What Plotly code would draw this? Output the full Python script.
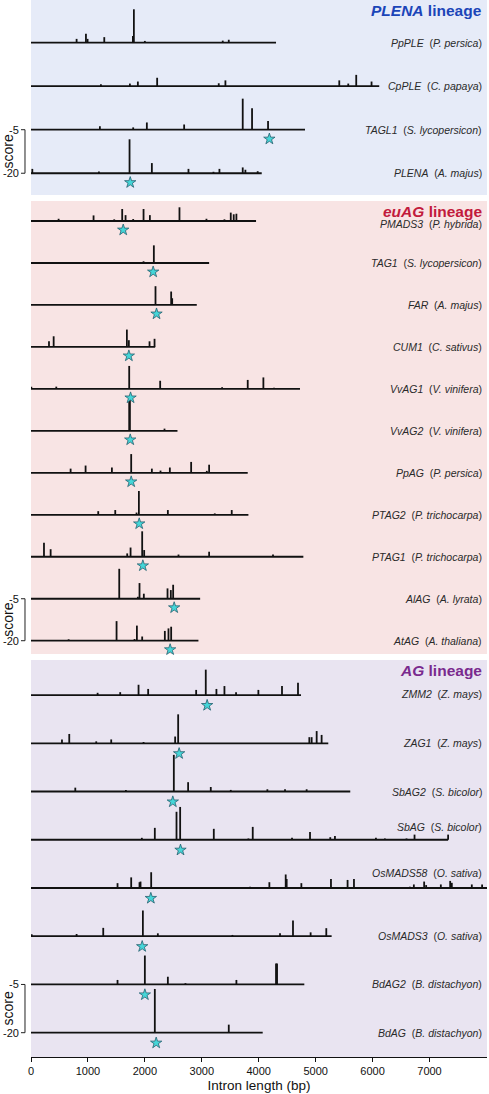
import plotly.graph_objects as go

# ------------------------------------------------------------------
# DATA  (positions in bp, peak values are scores; baseline = -5)
# ------------------------------------------------------------------
SCALE_TOP_SCORE = -5
SCALE_BOTTOM_SCORE = -20
X_TICKS = [0, 1000, 2000, 3000, 4000, 5000, 6000, 7000]

# ---- PLENA lineage ----
PLENA_GENES = ["PpPLE", "CpPLE", "TAGL1", "PLENA"]
PLENA_SPECIES = ["P. persica", "C. papaya", "S. lycopersicon", "A. majus"]
PLENA_LENGTH = [4304, 6117, 4813, 4053]
PLENA_STAR = [None, None, 4187, 1743]

PpPLE_POS = [801, 965, 994, 1287, 1790, 1807, 2000, 3368, 3474]
PpPLE_SCORE = [-6.3, -8.1, -6.3, -6.9, -7.3, -16.5, -5.6, -5.7, -6.0]
CpPLE_POS = [1228, 1737, 1877, 2216, 3298, 3415, 5415, 5573, 5713, 5982]
CpPLE_SCORE = [-5.7, -5.9, -6.6, -7.9, -6.0, -7.0, -7.0, -5.9, -8.9, -6.6]
TAGL1_POS = [1210, 1795, 2035, 2690, 3719, 3883, 4164]
TAGL1_SCORE = [-6.2, -5.8, -7.5, -6.8, -15.7, -12.4, -8.0]
PLENA_POS = [23, 1193, 1731, 2123, 2766, 3205, 3310, 3719, 3766, 3982]
PLENA_SCORE = [-6.5, -5.6, -16.7, -8.5, -6.5, -5.5, -6.5, -7.0, -6.2, -5.7]

# ---- euAG lineage ----
EUAG_GENES = ["PMADS3", "TAG1", "FAR", "CUM1", "VvAG1", "VvAG2", "PpAG",
              "PTAG2", "PTAG1", "AlAG", "AtAG"]
EUAG_SPECIES = ["P. hybrida", "S. lycopersicon", "A. majus", "C. sativus",
                "V. vinifera", "V. vinifera", "P. persica", "P. trichocarpa",
                "P. trichocarpa", "A. lyrata", "A. thaliana"]
EUAG_LENGTH = [3953, 3129, 2912, 2181, 4725, 2573, 3807, 3819, 4784, 2971, 2941]
EUAG_STAR = [1620, 2146, 2205, 1719, 1749, 1743, 1760, 1901, 1965, 2515, 2444]

PMADS3_POS = [485, 1099, 1462, 1602, 1661, 1795, 1977, 2088, 2608, 3082, 3398, 3509, 3561, 3608]
PMADS3_SCORE = [-5.8, -7.0, -5.6, -9.3, -7.1, -5.7, -9.3, -7.1, -9.9, -5.8, -5.6, -8.0, -7.4, -7.6]
TAG1_POS = [1977, 2158]
TAG1_SCORE = [-5.6, -11.3]
FAR_POS = [2187, 2462, 2480]
FAR_SCORE = [-11.7, -9.8, -7.4]
CUM1_POS = [316, 398, 1684, 1719, 2082, 2170]
CUM1_SCORE = [-7.0, -8.8, -11.2, -7.4, -7.0, -7.9]
VvAG1_POS = [6, 444, 1725, 2269, 3357, 3807, 4082, 4269]
VvAG1_SCORE = [-5.8, -5.8, -13.2, -7.9, -5.6, -8.2, -9.1, -5.4]
VvAG2_POS = [1725, 1737, 2345]
VvAG2_SCORE = [-15.5, -17.0, -5.8]
PpAG_POS = [696, 959, 1421, 1760, 2123, 2275, 2439, 2813, 3088, 3129]
PpAG_SCORE = [-6.5, -7.6, -6.9, -11.7, -6.5, -5.8, -6.9, -8.9, -5.7, -7.9]
PTAG2_POS = [1181, 1480, 1854, 1895, 2404, 3228, 3526]
PTAG2_SCORE = [-6.3, -6.7, -5.8, -13.5, -6.7, -5.5, -6.7]
PTAG1_POS = [228, 345, 1690, 1749, 1953, 1988, 2591, 3129, 4251]
PTAG1_SCORE = [-10.0, -7.7, -6.2, -8.3, -14.1, -7.4, -5.8, -6.8, -5.8]
AlAG_POS = [1550, 1877, 1906, 1982, 2398, 2456, 2497]
AlAG_SCORE = [-15.7, -5.7, -10.6, -6.8, -8.7, -8.1, -10.0]
AtAG_POS = [661, 1503, 1819, 1860, 1953, 2351, 2415, 2462]
AtAG_SCORE = [-5.5, -12.0, -5.6, -10.4, -6.5, -8.5, -9.4, -10.0]

# ---- AG lineage ----
AG_GENES = ["ZMM2", "ZAG1", "SbAG2", "SbAG", "OsMADS58", "OsMADS3", "BdAG2", "BdAG"]
AG_SPECIES = ["Z. mays", "Z. mays", "S. bicolor", "S. bicolor", "O. sativa",
              "O. sativa", "B. distachyon", "B. distachyon"]
AG_LENGTH = [4743, 5222, 5608, 7327, 8010, 5281, 4801, 4070]
AG_STAR = [3094, 2602, 2491, 2626, 2105, 1953, 2000, 2199]

ZMM2_POS = [1170, 1567, 1889, 2058, 2901, 3070, 3257, 3398, 3602, 3994, 4409, 4690]
ZMM2_SCORE = [-5.7, -5.9, -8.2, -6.9, -6.6, -12.9, -6.9, -7.8, -5.9, -6.6, -7.8, -8.8]
ZAG1_POS = [544, 672, 1146, 1409, 1977, 2532, 2585, 4889, 4930, 5018, 5105]
ZAG1_SCORE = [-6.2, -7.9, -5.6, -6.2, -5.4, -7.1, -14.0, -6.9, -6.9, -8.8, -7.6]
SbAG2_POS = [778, 1667, 2509, 2760, 3158, 3509, 4152, 4462, 4842]
SbAG2_SCORE = [-6.2, -5.5, -16.4, -7.9, -6.4, -5.5, -5.7, -5.7, -5.7]
SbAG_POS = [1947, 2175, 2556, 2620, 3211, 3819, 3895, 4585, 4901, 5257, 5339,
            6059, 6216, 6596, 6737, 7327]
SbAG_SCORE = [-5.6, -8.7, -13.7, -15.2, -8.4, -5.4, -9.0, -5.6, -7.4, -5.8, -6.2,
              -5.6, -5.4, -5.4, -6.6, -6.6]
OsMADS58_POS = [1520, 1760, 1906, 1924, 2111, 3848, 4187, 4474, 4491, 4749, 5269,
                5561, 5673, 6655, 6725, 6906, 6941, 7199, 7363, 7392, 7743, 7924]
OsMADS58_SCORE = [-6.5, -8.3, -6.8, -7.0, -9.9, -5.4, -6.8, -9.2, -7.8, -6.5, -7.8,
                  -7.5, -7.8, -5.4, -6.1, -7.0, -5.9, -6.1, -7.2, -6.6, -6.1, -6.1]
OsMADS3_POS = [12, 801, 1269, 1965, 2228, 3538, 4374, 4602, 4912, 5187]
OsMADS3_SCORE = [-5.6, -5.7, -7.6, -13.0, -5.9, -5.4, -5.9, -9.9, -6.2, -7.5]
BdAG2_POS = [1520, 2000, 2404, 2713, 3608, 4304, 4322]
BdAG2_SCORE = [-6.4, -14.0, -7.4, -5.4, -6.4, -11.5, -11.5]
BdAG_POS = [2175, 3474]
BdAG_SCORE = [-18.6, -7.5]

PEAK_POS = {
    "PpPLE": PpPLE_POS, "CpPLE": CpPLE_POS, "TAGL1": TAGL1_POS, "PLENA": PLENA_POS,
    "PMADS3": PMADS3_POS, "TAG1": TAG1_POS, "FAR": FAR_POS, "CUM1": CUM1_POS,
    "VvAG1": VvAG1_POS, "VvAG2": VvAG2_POS, "PpAG": PpAG_POS, "PTAG2": PTAG2_POS,
    "PTAG1": PTAG1_POS, "AlAG": AlAG_POS, "AtAG": AtAG_POS,
    "ZMM2": ZMM2_POS, "ZAG1": ZAG1_POS, "SbAG2": SbAG2_POS, "SbAG": SbAG_POS,
    "OsMADS58": OsMADS58_POS, "OsMADS3": OsMADS3_POS, "BdAG2": BdAG2_POS, "BdAG": BdAG_POS,
}
PEAK_SCORE = {
    "PpPLE": PpPLE_SCORE, "CpPLE": CpPLE_SCORE, "TAGL1": TAGL1_SCORE, "PLENA": PLENA_SCORE,
    "PMADS3": PMADS3_SCORE, "TAG1": TAG1_SCORE, "FAR": FAR_SCORE, "CUM1": CUM1_SCORE,
    "VvAG1": VvAG1_SCORE, "VvAG2": VvAG2_SCORE, "PpAG": PpAG_SCORE, "PTAG2": PTAG2_SCORE,
    "PTAG1": PTAG1_SCORE, "AlAG": AlAG_SCORE, "AtAG": AtAG_SCORE,
    "ZMM2": ZMM2_SCORE, "ZAG1": ZAG1_SCORE, "SbAG2": SbAG2_SCORE, "SbAG": SbAG_SCORE,
    "OsMADS58": OsMADS58_SCORE, "OsMADS3": OsMADS3_SCORE, "BdAG2": BdAG2_SCORE, "BdAG": BdAG_SCORE,
}

# ------------------------------------------------------------------
# STYLE / LAYOUT
# ------------------------------------------------------------------
FONT = "Liberation Sans, Arial, Helvetica, sans-serif"
W, H = 489, 1094
ML, MR, MT, MB = 31, 2, 0, 37
PH = H - MT - MB  # plot height in px

panels = [
    dict(genes=PLENA_GENES, species=PLENA_SPECIES, length=PLENA_LENGTH, star=PLENA_STAR,
         title="<i>PLENA</i> lineage", tcolor="#1b45b8", bg="#e6ebf8",
         px=(0, 195), yr=(-7.5, 59.7), yax="y"),
    dict(genes=EUAG_GENES, species=EUAG_SPECIES, length=EUAG_LENGTH, star=EUAG_STAR,
         title="<i>euAG</i> lineage", tcolor="#c21a3c", bg="#f8e4e4",
         px=(201, 654), yr=(-4.75, 157.15), yax="y2"),
    dict(genes=AG_GENES, species=AG_SPECIES, length=AG_LENGTH, star=AG_STAR,
         title="<i>AG</i> lineage", tcolor="#7a2a8e", bg="#e9e4f1",
         px=(660, 1057), yr=(-7.56, 115.9), yax="y3"),
]
STEP = SCALE_TOP_SCORE - SCALE_BOTTOM_SCORE   # 15 score units between rows
STAR_OFFSET = 3.2
LABEL_SHIFT = {"OsMADS58": 15, "SbAG": 13, "PMADS3": -3, "ZMM2": 1}

fig = go.Figure()
shapes, annotations = [], []
layout_axes = {}


def xpaper(px):
    return (px - ML) / (W - ML - MR)


for k, p in enumerate(panels):
    n = len(p["genes"])
    yax = p["yax"]
    ykey = "yaxis" if yax == "y" else "yaxis" + yax[1:]
    d0 = 1 - (p["px"][1] - MT) / PH
    d1 = 1 - (p["px"][0] - MT) / PH
    layout_axes[ykey] = dict(domain=[max(0, d0), min(1, d1)], range=list(p["yr"]),
                             visible=False, fixedrange=True, anchor="x")
    # background
    shapes.append(dict(type="rect", xref="x domain", yref=yax + " domain",
                       x0=0, x1=1, y0=0, y1=1, fillcolor=p["bg"],
                       line=dict(width=0), layer="below"))
    # lineage title
    annotations.append(dict(text="<b>" + p["title"] + "</b>", xref="paper",
                            yref=yax + " domain", x=xpaper(484), y=1,
                            xanchor="right", yanchor="middle", yshift=-10,
                            showarrow=False,
                            font=dict(size=15.5, color=p["tcolor"], family=FONT)))
    sx, sy = [], []
    for i, g in enumerate(p["genes"]):
        base = STEP * (n - 1 - i)
        xs = [0, p["length"][i], None]
        ys = [base, base, None]
        for pos, sc in zip(PEAK_POS[g], PEAK_SCORE[g]):
            xs += [pos, pos, None]
            ys += [base, base + (SCALE_TOP_SCORE - sc), None]
        fig.add_trace(go.Scatter(x=xs, y=ys, mode="lines", xaxis="x", yaxis=yax,
                                 line=dict(color="#111111", width=1.8),
                                 name=g, showlegend=False, hoverinfo="skip",
                                 cliponaxis=True))
        if p["star"][i] is not None:
            sx.append(p["star"][i])
            sy.append(base - STAR_OFFSET)
        annotations.append(dict(
            text="<i>%s</i>\u00a0\u00a0(<i>%s</i>)" % (g, p["species"][i]),
            xref="paper", yref=yax, x=xpaper(484), y=base,
            xanchor="right", yanchor="middle", showarrow=False,
            yshift=LABEL_SHIFT.get(g, 0),
            font=dict(size=10.5, color="#2a2a2a", family=FONT)))
    fig.add_trace(go.Scatter(x=sx, y=sy, mode="markers", xaxis="x", yaxis=yax,
                             marker=dict(symbol="star", size=8.5, color="#45d6d8",
                                         line=dict(color="#24606e", width=0.8)),
                             showlegend=False, hoverinfo="skip", cliponaxis=False))
    # score scale bar at left (last two rows)
    y_top, y_bot = STEP, 0
    shapes.append(dict(type="path", xref="paper", yref=yax,
                       path="M %f,%f L %f,%f L %f,%f L %f,%f" % (
                           xpaper(21), y_top, xpaper(25), y_top,
                           xpaper(25), y_bot, xpaper(21), y_bot),
                       line=dict(color="#222222", width=1)))
    annotations.append(dict(text=str(SCALE_TOP_SCORE), xref="paper", yref=yax,
                            x=xpaper(20.5), y=y_top, xanchor="right", yanchor="middle",
                            showarrow=False, font=dict(size=11, color="#111", family=FONT)))
    annotations.append(dict(text=str(SCALE_BOTTOM_SCORE), xref="paper", yref=yax,
                            x=xpaper(20.5), y=y_bot, xanchor="right", yanchor="middle",
                            showarrow=False, font=dict(size=11, color="#111", family=FONT)))
    annotations.append(dict(text="score", xref="paper", yref=yax,
                            x=xpaper(8), y=(y_top + y_bot) / 2, xanchor="center",
                            yanchor="middle", textangle=-90, showarrow=False,
                            font=dict(size=14, color="#111", family=FONT)))

fig.update_layout(
    width=W, height=H,
    margin=dict(l=ML, r=MR, t=MT, b=MB),
    paper_bgcolor="white", plot_bgcolor="white",
    font=dict(family=FONT, color="#111"),
    xaxis=dict(range=[0, 8010], anchor="y3", tickvals=X_TICKS,
               ticktext=[str(v) for v in X_TICKS],
               ticks="outside", ticklen=4, tickwidth=1, tickcolor="#111",
               showline=True, linecolor="#111", linewidth=1,
               showgrid=False, zeroline=False, fixedrange=True,
               tickfont=dict(size=11, color="#111", family=FONT),
               title=dict(text="Intron length (bp)", standoff=4,
                          font=dict(size=13.5, color="#111", family=FONT))),
    shapes=shapes, annotations=annotations,
    **layout_axes,
)

fig.write_html("out.html", config={"displayModeBar": False},
               post_script="document.body.style.margin='0';document.body.style.padding='0';")
